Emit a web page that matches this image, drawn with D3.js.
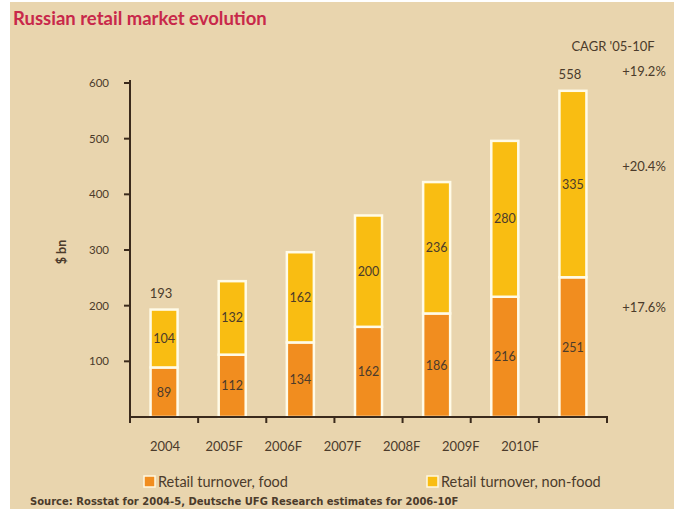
<!DOCTYPE html>
<html>
<head>
<meta charset="utf-8">
<script src="https://cdn.jsdelivr.net/npm/d3@7/dist/d3.min.js"></script>
<style>
  html, body { margin: 0; padding: 0; background: #ffffff; }
  svg { display: block; }
  text { font-family: Lato, "Open Sans", sans-serif; }
</style>
</head>
<body>
<svg id="chart" width="674" height="509"></svg>
<script>
// Russian retail market, $ bn
const years = ["2004", "2005F", "2006F", "2007F", "2008F", "2009F", "2010F"];
const food = [89, 112, 134, 162, 186, 216, 251];
const nonFood = [104, 132, 162, 200, 236, 280, 335];
const totalLabels = ["193", "", "", "", "", "", "558"];
const yTicks = [100, 200, 300, 400, 500, 600];
const cagrLabels = [
  { text: "+19.2%", at: 620 },
  { text: "+20.4%", at: 450 },
  { text: "+17.6%", at: 195 }
];

const colFood = "#f18d1f";
const colNonFood = "#f9bd12";
const ink = "#4b3b2b";
const bg = "#e9d5ae";

const svg = d3.select("#chart");
svg.append("rect").attr("x", 0).attr("y", 0).attr("width", 674).attr("height", 509).attr("fill", "#ffffff");
svg.append("rect").attr("x", 10).attr("y", 2).attr("width", 664).attr("height", 507).attr("fill", bg);

svg.append("text").attr("x", 13).attr("y", 25)
  .attr("fill", "#c8284a").attr("font-size", 18.5).attr("font-weight", 700)
  .text("Russian retail market evolution");

const x = d3.scaleBand().domain(d3.range(years.length)).range([130, 607]).paddingInner(0).paddingOuter(0);
const y = d3.scaleLinear().domain([0, 600]).range([417, 83]);
// year captions sit on their own, slightly narrower spacing
const xLab = d3.scalePoint().domain(years).range([165, 520]);

const barW = 27;
const g = svg.append("g");

const stacked = years.map((yr, i) => ({ i, food: food[i], nonFood: nonFood[i] }));

// food segment
g.selectAll("rect.food").data(stacked).join("rect")
  .attr("class", "food")
  .attr("x", d => x(d.i) + x.bandwidth() / 2 - barW / 2)
  .attr("y", d => y(d.food))
  .attr("width", barW)
  .attr("height", d => y(0) - y(d.food))
  .attr("fill", colFood).attr("stroke", "#fffbe8").attr("stroke-width", 2.5);

// non-food segment
g.selectAll("rect.nonfood").data(stacked).join("rect")
  .attr("class", "nonfood")
  .attr("x", d => x(d.i) + x.bandwidth() / 2 - barW / 2)
  .attr("y", d => y(d.food + d.nonFood))
  .attr("width", barW)
  .attr("height", d => y(d.food) - y(d.food + d.nonFood))
  .attr("fill", colNonFood).attr("stroke", "#fffbe8").attr("stroke-width", 2.5);

// segment values
g.selectAll("text.fv").data(stacked).join("text")
  .attr("x", d => x(d.i) + x.bandwidth() / 2)
  .attr("y", d => y(d.food / 2) + 4.5)
  .attr("text-anchor", "middle").attr("font-size", 12.5).attr("fill", ink)
  .text(d => d.food);
g.selectAll("text.nv").data(stacked).join("text")
  .attr("x", d => x(d.i) + x.bandwidth() / 2)
  .attr("y", d => y(d.food + d.nonFood / 2) + 4.5)
  .attr("text-anchor", "middle").attr("font-size", 12.5).attr("fill", ink)
  .text(d => d.nonFood);
g.selectAll("text.tv").data(stacked).join("text")
  .attr("x", d => x(d.i) + x.bandwidth() / 2 - 3)
  .attr("y", d => y(d.food + d.nonFood) - 12)
  .attr("text-anchor", "middle").attr("font-size", 13).attr("fill", ink)
  .text(d => totalLabels[d.i]);

// axes
svg.append("line").attr("x1", 130).attr("x2", 130).attr("y1", 80).attr("y2", 418)
  .attr("stroke", "#3a2a1c").attr("stroke-width", 2);
svg.append("line").attr("x1", 129).attr("x2", 608).attr("y1", 417).attr("y2", 417)
  .attr("stroke", "#3a2a1c").attr("stroke-width", 2);

svg.selectAll("line.yt").data(yTicks).join("line")
  .attr("x1", 124).attr("x2", 130).attr("y1", d => y(d)).attr("y2", d => y(d))
  .attr("stroke", "#3a2a1c").attr("stroke-width", 2);
svg.selectAll("text.yl").data(yTicks).join("text")
  .attr("x", 109).attr("y", d => y(d) + 4)
  .attr("text-anchor", "end").attr("font-size", 11.5).attr("fill", ink)
  .text(d => d);

const xTickPos = d3.range(years.length + 1).map(i => i < years.length ? x(i) : x(years.length - 1) + x.bandwidth());
svg.selectAll("line.xt").data(xTickPos).join("line")
  .attr("x1", d => d).attr("x2", d => d).attr("y1", 417).attr("y2", 423)
  .attr("stroke", "#3a2a1c").attr("stroke-width", 2);
svg.selectAll("text.xl").data(years).join("text")
  .attr("x", d => xLab(d)).attr("y", 451)
  .attr("text-anchor", "middle").attr("font-size", 13).attr("fill", ink)
  .text(d => d);

svg.append("text")
  .attr("transform", "translate(66,252) rotate(-90)")
  .attr("text-anchor", "middle").attr("font-size", 12.5).attr("font-weight", 700).attr("fill", ink)
  .text("$ bn");

// CAGR column
svg.append("text").attr("x", 613).attr("y", 51).attr("text-anchor", "middle")
  .attr("font-size", 13).attr("fill", ink).text("CAGR '05-10F");
svg.selectAll("text.cagr").data(cagrLabels).join("text")
  .attr("x", 644).attr("y", d => y(d.at) + 4).attr("text-anchor", "middle")
  .attr("font-size", 13).attr("fill", ink).text(d => d.text);

// legend
const legend = [
  { label: "Retail turnover, food", color: colFood, x: 144 },
  { label: "Retail turnover, non-food", color: colNonFood, x: 427 }
];
const lg = svg.selectAll("g.lg").data(legend).join("g").attr("transform", d => `translate(${d.x},482)`);
lg.append("rect").attr("x", 0).attr("y", -6).attr("width", 11).attr("height", 11)
  .attr("fill", d => d.color).attr("stroke", "#fff8e0").attr("stroke-width", 1.5);
lg.append("text").attr("x", 14).attr("y", 5).attr("font-size", 14.5).attr("fill", ink)
  .text(d => d.label);

svg.append("text").attr("x", 30).attr("y", 505).attr("font-size", 10).attr("font-weight", 700)
  .attr("fill", ink).style("font-family", "'DejaVu Sans', sans-serif")
  .text("Source: Rosstat for 2004-5, Deutsche UFG Research estimates for 2006-10F");
</script>
</body>
</html>
